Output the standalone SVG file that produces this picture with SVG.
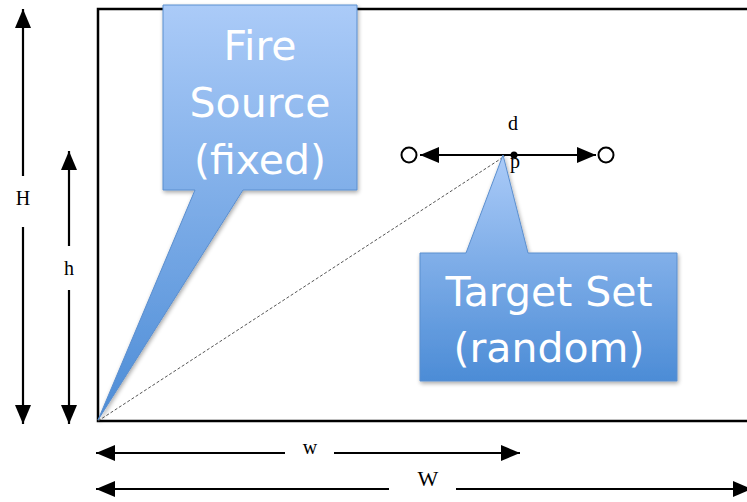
<svg xmlns="http://www.w3.org/2000/svg" width="747" height="502" viewBox="0 0 747 502">
<style>
.ln{stroke:#000;stroke-width:2.2;fill:none}
.lbl{font-family:"Liberation Serif",serif;font-size:20px;fill:#000;text-anchor:middle}
.call{fill:url(#g);stroke:#5b8fcf;stroke-width:1;filter:url(#sh)}
.ct{font-family:"DejaVu Sans",Verdana,sans-serif;font-size:41px;fill:#fff;text-anchor:middle}
</style>
<defs>
<linearGradient id="g" x1="0" y1="0" x2="0" y2="1">
<stop offset="0" stop-color="#abcbf8"/>
<stop offset="1" stop-color="#4c8cd6"/>
</linearGradient>
<filter id="sh" x="-10%" y="-10%" width="130%" height="130%">
<feGaussianBlur in="SourceAlpha" stdDeviation="2"/>
<feOffset dx="1" dy="2"/>
<feComponentTransfer><feFuncA type="linear" slope="0.35"/></feComponentTransfer>
<feMerge><feMergeNode/><feMergeNode in="SourceGraphic"/></feMerge>
</filter>
<marker id="ab" viewBox="0 0 19 16" refX="19" refY="8" markerWidth="19" markerHeight="16" markerUnits="userSpaceOnUse" orient="auto-start-reverse">
<path d="M0,0 L19,8 L0,16 z" fill="#000"/>
</marker>
</defs>
<rect x="0" y="0" width="747" height="502" fill="#fff"/>
<g id="field">
<path d="M760,9 H98 V421 H760" stroke="#000" stroke-width="2.5" fill="none"/>
</g>
<g id="connectors">
<line x1="98" y1="421" x2="505" y2="156" stroke="#555" stroke-width="1" stroke-dasharray="3,2"/>
<line class="ln" x1="23" y1="9" x2="23" y2="176" marker-start="url(#ab)"/>
<line class="ln" x1="23" y1="227" x2="23" y2="424" marker-end="url(#ab)"/>
<line class="ln" x1="69" y1="151" x2="69" y2="246" marker-start="url(#ab)"/>
<line class="ln" x1="69" y1="290" x2="69" y2="424" marker-end="url(#ab)"/>
<line class="ln" x1="96" y1="453" x2="285" y2="453" marker-start="url(#ab)"/>
<line class="ln" x1="334" y1="453" x2="520" y2="453" marker-end="url(#ab)"/>
<line class="ln" x1="96" y1="489" x2="389" y2="489" marker-start="url(#ab)"/>
<line class="ln" x1="456" y1="489" x2="752" y2="489" marker-end="url(#ab)"/>
<line class="ln" x1="420" y1="155" x2="596" y2="155" marker-start="url(#ab)" marker-end="url(#ab)"/>
<circle cx="409" cy="155" r="7.5" fill="#fff" stroke="#000" stroke-width="2"/>
<circle cx="606" cy="155" r="7.5" fill="#fff" stroke="#000" stroke-width="2"/>
<circle cx="514" cy="155" r="3.5" fill="#000"/>
</g>
<g id="labels">
<text class="lbl" x="23" y="205">H</text>
<text class="lbl" x="69" y="275">h</text>
<text class="lbl" x="310" y="454">w</text>
<text class="lbl" x="428" y="486" style="font-size:22px">W</text>
<text class="lbl" x="513" y="130">d</text>
<text class="lbl" x="515" y="168">p</text>
</g>
<g id="fire-source">
<path class="call" d="M163,5 H357 V190 H243 L98,420 L195,190 H163 Z"/>
<text class="ct" x="260" y="60">Fire</text>
<text class="ct" x="260" y="117">Source</text>
<text class="ct" x="260" y="174">(fixed)</text>
</g>
<g id="target-set">
<path class="call" d="M420,253 H466 L503,155 L528,253 H677 V381 H420 Z"/>
<text class="ct" x="549" y="306">Target Set</text>
<text class="ct" x="549" y="362">(random)</text>
</g>
</svg>
